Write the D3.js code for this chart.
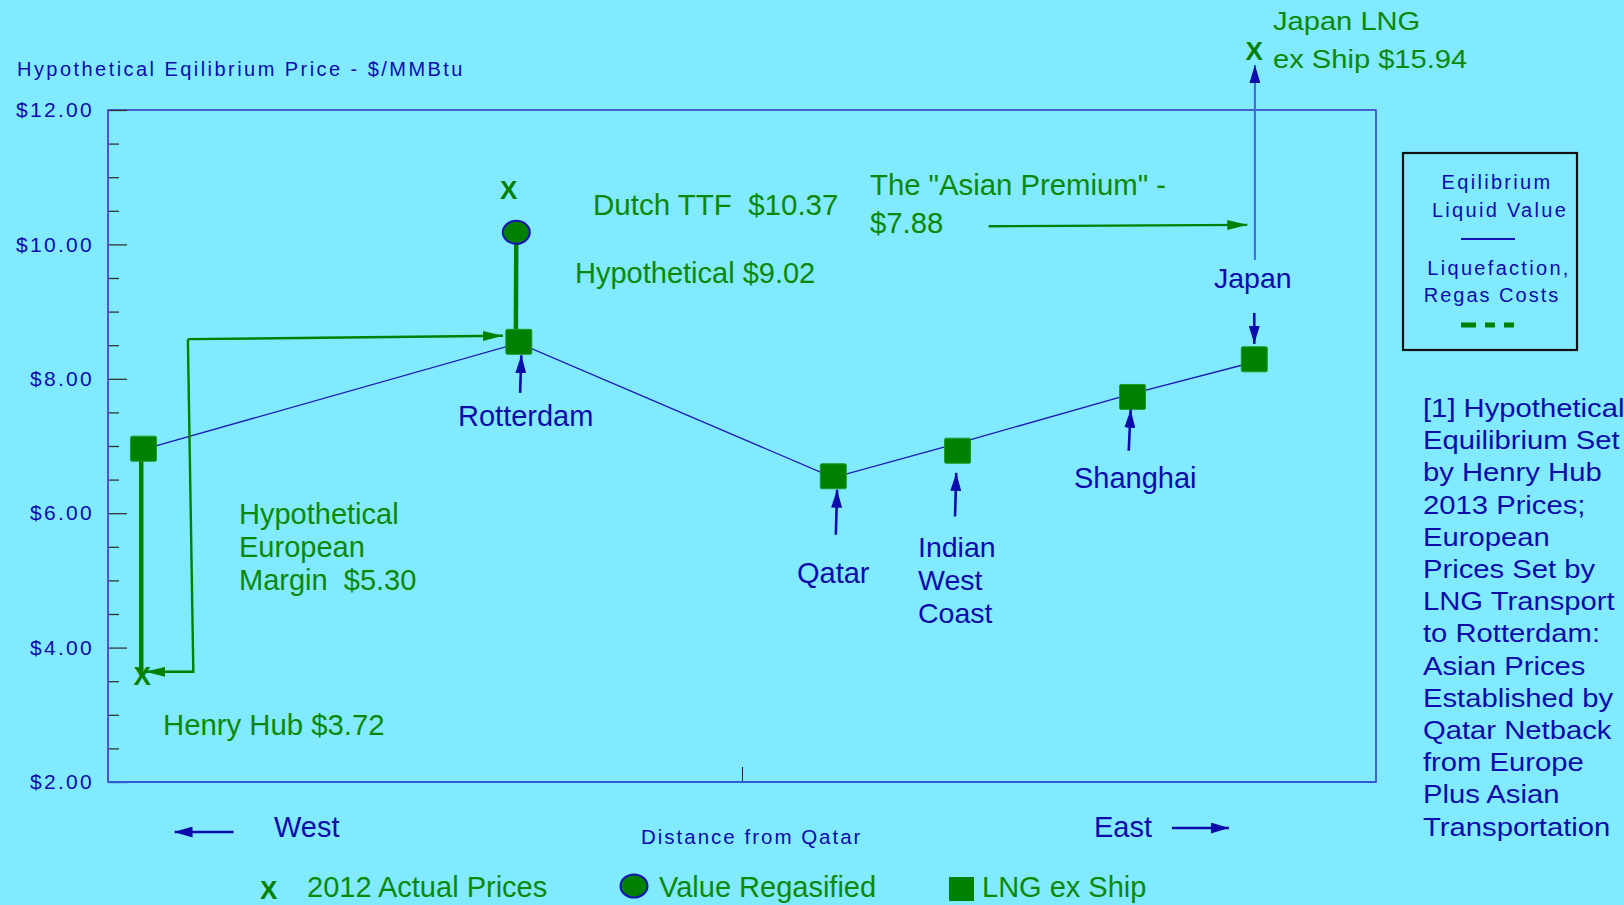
<!DOCTYPE html>
<html><head><meta charset="utf-8">
<script src="https://cdn.jsdelivr.net/npm/d3@7"></script>
<style>
html,body{margin:0;padding:0;background:#82EAFE;}
svg{display:block;}
text{font-family:"Liberation Sans",Arial,Helvetica,sans-serif;}
</style>
</head><body>
<svg id="c" width="1624" height="905"></svg>
<script>
// ---------- DATA ----------
const locations      = ["Henry Hub", "Rotterdam", "Qatar", "Indian West Coast", "Shanghai", "Japan"];
const distance       = [2.8, 32.4, 57.2, 67.0, 80.8, 90.4];      // relative distance along West–East axis
const equilibriumVal = [6.95, 8.53, 6.53, 7.04, 7.78, 8.25];     // Eqilibrium Liquid Value (line)
const lngExShip      = [6.96, 8.55, 6.55, 6.93, 7.73, 8.29];     // LNG ex Ship (squares)

const regasLocations = ["Rotterdam"];
const regasDistance  = [32.2];
const regasValue     = [10.18];                                   // Value Regasified (circle)

const actualLocations = ["Henry Hub", "Rotterdam", "Japan"];
const actualDistance  = [2.7, 31.6, 90.4];
const actualPrice     = [3.58, 10.81, 12.89];                     // 2012 Actual Prices (X)

const yMajorTicks = [2, 4, 6, 8, 10, 12];
const yMinorTicks = [2.5, 3, 3.5, 4.5, 5, 5.5, 6.5, 7, 7.5, 8.5, 9, 9.5, 10.5, 11, 11.5];
const yTickLabels = ["$2.00", "$4.00", "$6.00", "$8.00", "$10.00", "$12.00"];
const xTicks = [50];

// ---------- SETUP ----------
const BLUE = "#0c0caa", GREEN = "#008000", GTXT = "#0a880a";
const svg = d3.select("#c");
const plot = {l:108, r:1376, t:110, b:782};
const x = d3.scaleLinear().domain([0,100]).range([plot.l, plot.r]);
const y = d3.scaleLinear().domain([2,12]).range([plot.b, plot.t]);

const defs = svg.append("defs");
function marker(id, color, len, wid){
  defs.append("marker").attr("id", id).attr("markerUnits","userSpaceOnUse")
    .attr("viewBox", `0 0 ${len} ${wid}`).attr("refX", len).attr("refY", wid/2)
    .attr("markerWidth", len).attr("markerHeight", wid).attr("orient","auto")
    .append("path").attr("d", `M0,0L${len},${wid/2}L0,${wid}Z`).attr("fill", color);
}
marker("ab", BLUE, 18, 11);
marker("ag", GREEN, 20, 10);

function txt(g, lines, o){
  const t = g.append("text")
    .attr("transform", `translate(${o.x},${o.y}) scale(${o.sx||1},1)`)
    .attr("font-size", o.size).attr("fill", o.fill)
    .attr("text-anchor", o.anchor||"start")
    .attr("letter-spacing", o.ls||0)
    .attr("font-weight", o.weight||"normal")
    .style("white-space","pre");
  lines.forEach((l,i)=> t.append("tspan").attr("x",0).attr("dy", i ? o.lh : 0).text(l));
  return t;
}

// ---------- AXES / FRAME ----------
svg.append("rect").attr("x",plot.l).attr("y",plot.t).attr("width",plot.r-plot.l).attr("height",plot.b-plot.t)
  .attr("fill","none").attr("stroke","#2a2ab8").attr("stroke-width",1.4);

const yMajor = svg.append("g").attr("transform",`translate(${plot.l},0)`)
  .call(d3.axisLeft(y).tickValues(yMajorTicks).tickSizeInner(-19).tickSizeOuter(0).tickPadding(14)
    .tickFormat(d=> yTickLabels[yMajorTicks.indexOf(d)]));
yMajor.select(".domain").remove();
yMajor.selectAll(".tick line").attr("stroke","#333").attr("stroke-width",1.3);
yMajor.selectAll(".tick text").attr("font-size",21).attr("fill",BLUE).attr("letter-spacing",2.3)
  .attr("font-family",'"Liberation Sans",Arial,sans-serif');

const yMinor = svg.append("g").attr("transform",`translate(${plot.l},0)`)
  .call(d3.axisLeft(y).tickValues(yMinorTicks).tickSizeInner(-11).tickSizeOuter(0).tickFormat(""));
yMinor.select(".domain").remove();
yMinor.selectAll(".tick line").attr("stroke","#333").attr("stroke-width",1.3);

const xAx = svg.append("g").attr("transform",`translate(0,${plot.b})`)
  .call(d3.axisBottom(x).tickValues(xTicks).tickSizeInner(-15).tickSizeOuter(0).tickFormat(""));
xAx.select(".domain").remove();
xAx.selectAll(".tick line").attr("stroke","#222").attr("stroke-width",1);

svg.append("line").attr("x1",plot.l).attr("x2",plot.l).attr("y1",plot.t).attr("y2",plot.b)
  .attr("stroke","#5a4fd0").attr("stroke-width",1.6);
svg.append("line").attr("x1",plot.l).attr("x2",plot.r).attr("y1",plot.b).attr("y2",plot.b)
  .attr("stroke","#2f5ad8").attr("stroke-width",1.8);

// y title
txt(svg, ["Hypothetical Eqilibrium Price - $/MMBtu"], {x:17, y:76, size:20, fill:BLUE, ls:2.45});

// ---------- MARKS ----------
const gM = svg.append("g");

// stems (liquefaction / regas costs)
const hhA = actualLocations.indexOf("Henry Hub");
const hhL = locations.indexOf("Henry Hub");
gM.append("line")
  .attr("x1", x(actualDistance[hhA])-1).attr("x2", x(actualDistance[hhA])-1)
  .attr("y1", y(lngExShip[hhL])).attr("y2", y(actualPrice[hhA]))
  .attr("stroke",GREEN).attr("stroke-width",4.5);
const rL = locations.indexOf("Rotterdam");
gM.append("line")
  .attr("x1", x(regasDistance[0])).attr("x2", x(distance[rL])-3)
  .attr("y1", y(regasValue[0])).attr("y2", y(lngExShip[rL]))
  .attr("stroke",GREEN).attr("stroke-width",4.5);

// equilibrium line
gM.append("path")
  .datum(distance.map((d,i)=>[d, equilibriumVal[i]]))
  .attr("d", d3.line().x(d=>x(d[0])).y(d=>y(d[1])))
  .attr("fill","none").attr("stroke","#1a1ab4").attr("stroke-width",1.3);

// European margin arrow (annotation)
const marginCorner = [6.3, 8.59], marginTopTip = [31.15, 8.64];
const marginBottomCorner = [6.73, 3.64], marginBottomTip = [2.95, 3.64];
gM.append("path").attr("d", d3.line()([[x(marginCorner[0]),y(marginCorner[1])],[x(marginTopTip[0]),y(marginTopTip[1])]]))
  .attr("stroke",GREEN).attr("stroke-width",2.4).attr("fill","none").attr("marker-end","url(#ag)");
gM.append("path").attr("d", d3.line()([[x(marginCorner[0]),y(marginCorner[1])],[x(marginBottomCorner[0]),y(marginBottomCorner[1])],[x(marginBottomTip[0]),y(marginBottomTip[1])]]))
  .attr("stroke",GREEN).attr("stroke-width",2.4).attr("fill","none").attr("marker-end","url(#ag)");

// Asian premium arrow
const apFrom = [69.45, 10.27], apTo = [89.85, 10.29];
gM.append("line").attr("x1",x(apFrom[0])).attr("y1",y(apFrom[1])).attr("x2",x(apTo[0])).attr("y2",y(apTo[1]))
  .attr("stroke",GREEN).attr("stroke-width",2.4).attr("marker-end","url(#ag)");

// Japan long arrow to LNG actual
const jpFrom = [90.45, 9.77], jpTo = [90.45, 12.67];
gM.append("line").attr("x1",x(jpFrom[0])).attr("y1",y(jpFrom[1])).attr("x2",x(jpTo[0])).attr("y2",y(jpTo[1]))
  .attr("stroke","#3a6ad8").attr("stroke-width",2).attr("marker-end","url(#ab)");

// squares: LNG ex Ship
gM.selectAll("rect.sq").data(distance).join("rect").attr("class","sq")
  .attr("x",(d)=>x(d)-13).attr("y",(d,i)=>y(lngExShip[i])-12.5)
  .attr("width",26).attr("height",25).attr("rx",1.5)
  .attr("fill",GREEN).attr("stroke","#1f9a25").attr("stroke-width",1);

// circle: value regasified
gM.selectAll("ellipse.rg").data(regasDistance).join("ellipse").attr("class","rg")
  .attr("cx",d=>x(d)).attr("cy",(d,i)=>y(regasValue[i])).attr("rx",13.5).attr("ry",11.5)
  .attr("fill",GREEN).attr("stroke","#1515b5").attr("stroke-width",2);

// X: actual prices
gM.selectAll("text.ax").data(actualDistance).join("text").attr("class","ax")
  .attr("x",d=>x(d)).attr("y",(d,i)=>y(actualPrice[i]))
  .attr("dy","0.36em").attr("text-anchor","middle").attr("font-size",26).attr("font-weight","bold")
  .attr("fill",GREEN).text("X");

// location pointer arrows
const ptrFrom = [[32.5,7.79],[57.4,5.68],[66.8,5.95],[80.5,6.93],[90.4,8.98]];
const ptrTo   = [[32.6,8.35],[57.5,6.35],[66.9,6.60],[80.65,7.54],[90.4,8.52]];
gM.selectAll("line.ptr").data(ptrFrom).join("line").attr("class","ptr")
  .attr("x1",d=>x(d[0])).attr("y1",d=>y(d[1]))
  .attr("x2",(d,i)=>x(ptrTo[i][0])).attr("y2",(d,i)=>y(ptrTo[i][1]))
  .attr("stroke",BLUE).attr("stroke-width",2.6).attr("marker-end","url(#ab)");

// ---------- LABELS ----------
const gL = svg.append("g");
txt(gL, ["Rotterdam"], {x:458, y:426, size:29, fill:BLUE});
txt(gL, ["Qatar"], {x:797, y:583, size:29, fill:BLUE});
txt(gL, ["Indian","West","Coast"], {x:918, y:557, size:28.5, fill:BLUE, lh:33});
txt(gL, ["Shanghai"], {x:1074, y:488, size:29, fill:BLUE});
txt(gL, ["Japan"], {x:1214, y:288, size:28.5, fill:BLUE});

txt(gL, ["Japan LNG","ex Ship $15.94"], {x:1273, y:30, size:26, fill:GTXT, lh:38, sx:1.12});
txt(gL, ["Dutch TTF  $10.37"], {x:593, y:215, size:29.5, fill:GTXT});
txt(gL, ["Hypothetical $9.02"], {x:575, y:283, size:29, fill:GTXT});
txt(gL, ["The \"Asian Premium\" -","$7.88"], {x:870, y:195, size:29.3, fill:GTXT, lh:38});
txt(gL, ["Hypothetical","European","Margin  $5.30"], {x:239, y:524, size:29, fill:GTXT, lh:33});
txt(gL, ["Henry Hub $3.72"], {x:163, y:735, size:29.3, fill:GTXT});

// West / East
txt(gL, ["West"], {x:274, y:837, size:29, fill:BLUE});
txt(gL, ["East"], {x:1094, y:837, size:29, fill:BLUE});
gL.append("line").attr("x1",x(9.9)).attr("x2",x(5.25)).attr("y1",832).attr("y2",832)
  .attr("stroke",BLUE).attr("stroke-width",2.6).attr("marker-end","url(#ab)");
gL.append("line").attr("x1",x(83.9)).attr("x2",x(88.4)).attr("y1",828).attr("y2",828)
  .attr("stroke",BLUE).attr("stroke-width",2.6).attr("marker-end","url(#ab)");
txt(gL, ["Distance from Qatar"], {x:641, y:844, size:20.5, fill:BLUE, ls:2.0});

// bottom legend
txt(gL, ["X"], {x:260, y:899, size:26, fill:GREEN, weight:"bold"});
txt(gL, ["2012 Actual Prices"], {x:307, y:897, size:29, fill:GTXT});
gL.append("ellipse").attr("cx",634).attr("cy",886).attr("rx",13.5).attr("ry",11.5)
  .attr("fill",GREEN).attr("stroke","#1515b5").attr("stroke-width",2);
txt(gL, ["Value Regasified"], {x:659, y:897, size:29, fill:GTXT});
gL.append("rect").attr("x",949).attr("y",877).attr("width",25).attr("height",24).attr("fill",GREEN);
txt(gL, ["LNG ex Ship"], {x:982, y:897, size:29, fill:GTXT});

// right legend box
gL.append("rect").attr("x",1403).attr("y",153).attr("width",174).attr("height",197)
  .attr("fill","none").attr("stroke","#111").attr("stroke-width",2.2);
txt(gL, ["Eqilibrium"], {x:1497, y:189, size:20, fill:BLUE, ls:2.3, anchor:"middle"});
txt(gL, ["Liquid Value"], {x:1500, y:217, size:20, fill:BLUE, ls:2.3, anchor:"middle"});
gL.append("line").attr("x1",1461).attr("x2",1515).attr("y1",239).attr("y2",239).attr("stroke","#1515b5").attr("stroke-width",2);
txt(gL, ["Liquefaction,"], {x:1499, y:275, size:20, fill:BLUE, ls:2.3, anchor:"middle"});
txt(gL, ["Regas Costs"], {x:1492, y:302, size:20, fill:BLUE, ls:2.0, anchor:"middle"});
gL.append("line").attr("x1",1461).attr("x2",1516).attr("y1",325).attr("y2",325).attr("stroke",GREEN)
  .attr("stroke-width",5).attr("stroke-dasharray","15,9,10,9,10,100");

// note
txt(gL, ["[1] Hypothetical","Equilibrium Set","by Henry Hub","2013 Prices;","European","Prices Set by",
  "LNG Transport","to Rotterdam:","Asian Prices","Established by","Qatar Netback","from Europe",
  "Plus Asian","Transportation"], {x:1423, y:417, size:25, fill:BLUE, lh:32.2, sx:1.17});
</script>
</body></html>
